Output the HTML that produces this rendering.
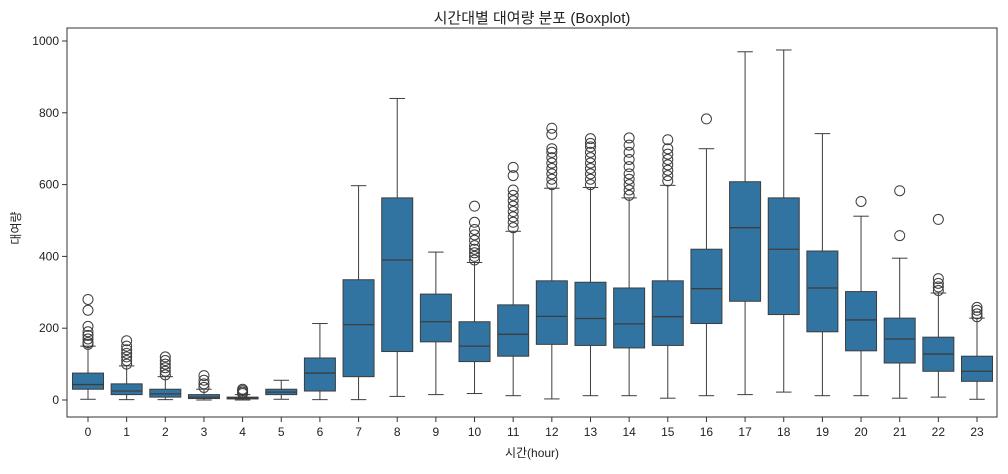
<!DOCTYPE html>
<html><head><meta charset="utf-8"><style>
body{margin:0;background:#fff;font-family:"Liberation Sans","Noto Sans CJK KR",sans-serif;}
svg text{font-family:"Liberation Sans","Noto Sans CJK KR",sans-serif;fill:#222;}
</style></head><body>
<svg id="chart" width="1008" height="469">
<text x="532" y="23" text-anchor="middle" font-size="15">시간대별 대여량 분포 (Boxplot)</text>
<text x="532" y="457" text-anchor="middle" font-size="12">시간(hour)</text>
<text x="20" y="228" text-anchor="middle" font-size="12" transform="rotate(-90 20 228)">대여량</text>
<g id="plot"></g>
<rect x="67" y="28" width="930" height="389" fill="none" stroke="#333" stroke-width="1"/>
</svg>
<script>
const hours=[0,1,2,3,4,5,6,7,8,9,10,11,12,13,14,15,16,17,18,19,20,21,22,23];
const q1=[30,15,8,4,3,15,25,65,135,162,107,122,155,152,145,152,213,275,238,190,137,103,80,52];
const med=[43,25,17,8,5,22,75,210,390,218,150,183,233,227,212,232,310,480,420,312,223,170,128,80];
const q3=[75,45,30,15,8,30,117,335,563,295,218,265,332,328,312,332,420,608,563,415,302,228,175,122];
const lo=[2,1,1,0,0,2,1,1,10,15,18,12,3,12,12,5,12,15,22,12,12,5,8,2];
const hi=[150,95,65,30,15,55,213,597,840,412,383,470,590,592,563,598,700,970,975,742,512,395,298,228];
const outliers=[
[155,160,170,180,190,205,250,280],
[100,110,120,130,140,150,165],
[70,80,90,100,110,120],
[35,45,55,68],
[18,22,26,30],
[],[],[],[],[],
[390,400,410,420,430,445,460,475,495,540],
[480,495,510,525,540,555,570,585,625,648],
[600,615,630,645,660,675,690,700,740,757],
[600,615,630,645,660,675,690,705,715,728],
[570,585,600,615,630,650,670,690,710,730],
[610,625,640,655,670,685,700,725],
[783],[],[],[],[553],[458,583],[305,315,325,338,503],[232,240,250,258]];
const yTicks=[0,200,400,600,800,1000];
const X0=67,X1=997,Y0=28,Y1=417;
const n=hours.length, step=(X1-X0)/(n+0.05);
function xs(i){return X0+10.5+ (i)*((977-88)/23) + (88-77.5);}
function ys(v){return 400-v*0.359;}
const g=document.getElementById('plot');
const NS='http://www.w3.org/2000/svg';
function mk(t,a){const e=document.createElementNS(NS,t);for(const k in a)e.setAttribute(k,a[k]);g.appendChild(e);return e;}
const bw=31, line='#3d3d3d';
yTicks.forEach(v=>{
  const t=mk('line',{x1:X0-5,x2:X0,y1:ys(v),y2:ys(v),stroke:'#333'});
  
  
  const l=mk('text',{x:X0-8,y:ys(v)+4,'text-anchor':'end','font-size':12});
  l.textContent=v;
  
  
});
hours.forEach((h,i)=>{
  const x=xs(i);
  const t=mk('line',{x1:x,x2:x,y1:Y1,y2:Y1+5,stroke:'#333'});
  
  
  const l=mk('text',{x:x,y:Y1+19,'text-anchor':'middle','font-size':12});
  l.textContent=h;
  
  
  const w1=mk('line',{x1:x,x2:x,y1:ys(lo[i]),y2:ys(q1[i]),stroke:line});
  
  
  const w2=mk('line',{x1:x,x2:x,y1:ys(q3[i]),y2:ys(hi[i]),stroke:line});
  
  
  [lo[i],hi[i]].forEach(v=>{
    const c=mk('line',{x1:x-bw/4,x2:x+bw/4,y1:ys(v),y2:ys(v),stroke:line});
    
    
  });
  const b=mk('rect',{x:x-bw/2,y:ys(q3[i]),width:bw,height:ys(q1[i])-ys(q3[i]),fill:'#3274a1',stroke:line});
  
  
  const m=mk('line',{x1:x-bw/2,x2:x+bw/2,y1:ys(med[i]),y2:ys(med[i]),stroke:line,'stroke-width':1.3});
  
  
  outliers[i].forEach(v=>{
    const c=mk('circle',{cx:x,cy:ys(v),r:5,fill:'none',stroke:line});
    
    
  });
});
</script>
</body></html>
